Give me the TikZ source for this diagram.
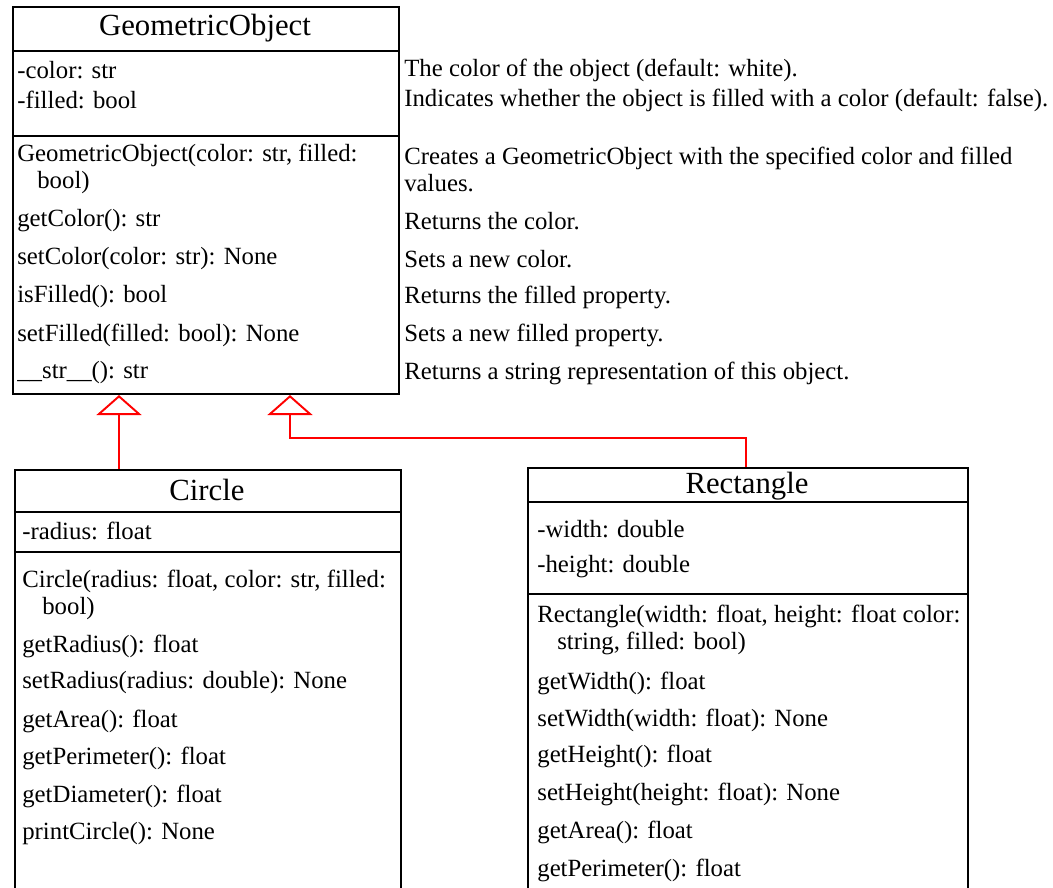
\documentclass[tikz,border=0pt]{standalone}
\usepackage{fontspec}
\setmainfont{Liberation Serif}
\usetikzlibrary{arrows.meta}
\tikzset{
  classbox/.style={draw, line width=1.2pt, anchor=north west, inner sep=0pt},
  classname/.style={font=\fontsize{17.5}{20}\selectfont, inner sep=0pt},
  member/.style={anchor=west, inner sep=0pt, align=left, font=\fontsize{14.1}{15.4}\selectfont},
  divider/.style={line width=1pt},
  inherit/.style={red, line width=1.1pt, -{Triangle[open, length=0.4cm, width=0.9cm]}}
}
\newcommand{\wrapind}{\hspace*{0.4cm}}

\begin{document}
\begin{tikzpicture}[x=0.02cm, y=-0.02cm]
  \useasboundingbox (0,0) rectangle (1053,887);

  % GeometricObject
  \node[classbox, minimum width=7.72cm, minimum height=7.74cm] (geo) at (12,6) {};
  \draw[divider] (12,51) -- (398,51);
  \draw[divider] (12,136) -- (398,136);
  \node[classname] (geoname) at (205,28) {GeometricObject};
  \node[member] (gcolor) at (17,70) {-color: str};
  \node[member] (gfilled) at (17,100) {-filled: bool};
  \node[member] (ginit) at (17,169) {GeometricObject(color: str, filled:\\\wrapind bool)};
  \node[member] (ggetcol) at (17,221) {getColor(): str};
  \node[member] (gsetcol) at (17,259) {setColor(color: str): None};
  \node[member] (gisfill) at (17,297) {isFilled(): bool};
  \node[member] (gsetfill) at (17,335) {setFilled(filled: bool): None};
  \node[member] (gstr) at (17,373) {\_\_str\_\_(): str};

  \node[member] (dcolor) at (404,70) {The color of the object (default: white).};
  \node[member] (dfilled) at (404,100) {Indicates whether the object is filled with a color (default: false).};
  \node[member] (dinit) at (404,169) {Creates a GeometricObject with the specified color and filled\\values.};
  \node[member] (dgetcol) at (404,221) {Returns the color.};
  \node[member] (dsetcol) at (404,259) {Sets a new color.};
  \node[member] (disfill) at (404,297) {Returns the filled property.};
  \node[member] (dsetfill) at (404,335) {Sets a new filled property.};
  \node[member] (dstr) at (404,373) {Returns a string representation of this object.};

  % Circle
  \node[classbox, minimum width=7.72cm, minimum height=8.7cm] (circ) at (14,469) {};
  \draw[divider] (14,512) -- (400,512);
  \draw[divider] (14,552) -- (400,552);
  \node[classname] (circname) at (207,490) {Circle};
  \node[member] (cradius) at (22,531) {-radius: float};
  \node[member] (cinit) at (22,595) {Circle(radius: float, color: str, filled:\\\wrapind bool)};
  \node[member] (cgetrad) at (22,646) {getRadius(): float};
  \node[member] (csetrad) at (22,683) {setRadius(radius: double): None};
  \node[member] (carea) at (22,721) {getArea(): float};
  \node[member] (cperim) at (22,758) {getPerimeter(): float};
  \node[member] (cdiam) at (22,796) {getDiameter(): float};
  \node[member] (cprint) at (22,834) {printCircle(): None};

  % Rectangle
  \node[classbox, minimum width=8.8cm, minimum height=8.7cm] (rect) at (527,467) {};
  \draw[divider] (527,502) -- (967,502);
  \draw[divider] (527,594) -- (967,594);
  \node[classname] (rectname) at (747,486) {Rectangle};
  \node[member] (rwidth) at (537,529) {-width: double};
  \node[member] (rheight) at (537,567) {-height: double};
  \node[member] (rinit) at (537,630) {Rectangle(width: float, height: float color:\\\wrapind string, filled: bool)};
  \node[member] (rgetw) at (537,683) {getWidth(): float};
  \node[member] (rsetw) at (537,720) {setWidth(width: float): None};
  \node[member] (rgeth) at (537,756) {getHeight(): float};
  \node[member] (rseth) at (537,794) {setHeight(height: float): None};
  \node[member] (rarea) at (537,832) {getArea(): float};
  \node[member] (rperim) at (537,870) {getPerimeter(): float};

  \draw[inherit] (circ.north -| 119,0) -- (geo.south -| 119,0);
  \draw[inherit] (rect.north -| 746,0) -- (746,438) -| (geo.south -| 290,0);
\end{tikzpicture}
\end{document}
